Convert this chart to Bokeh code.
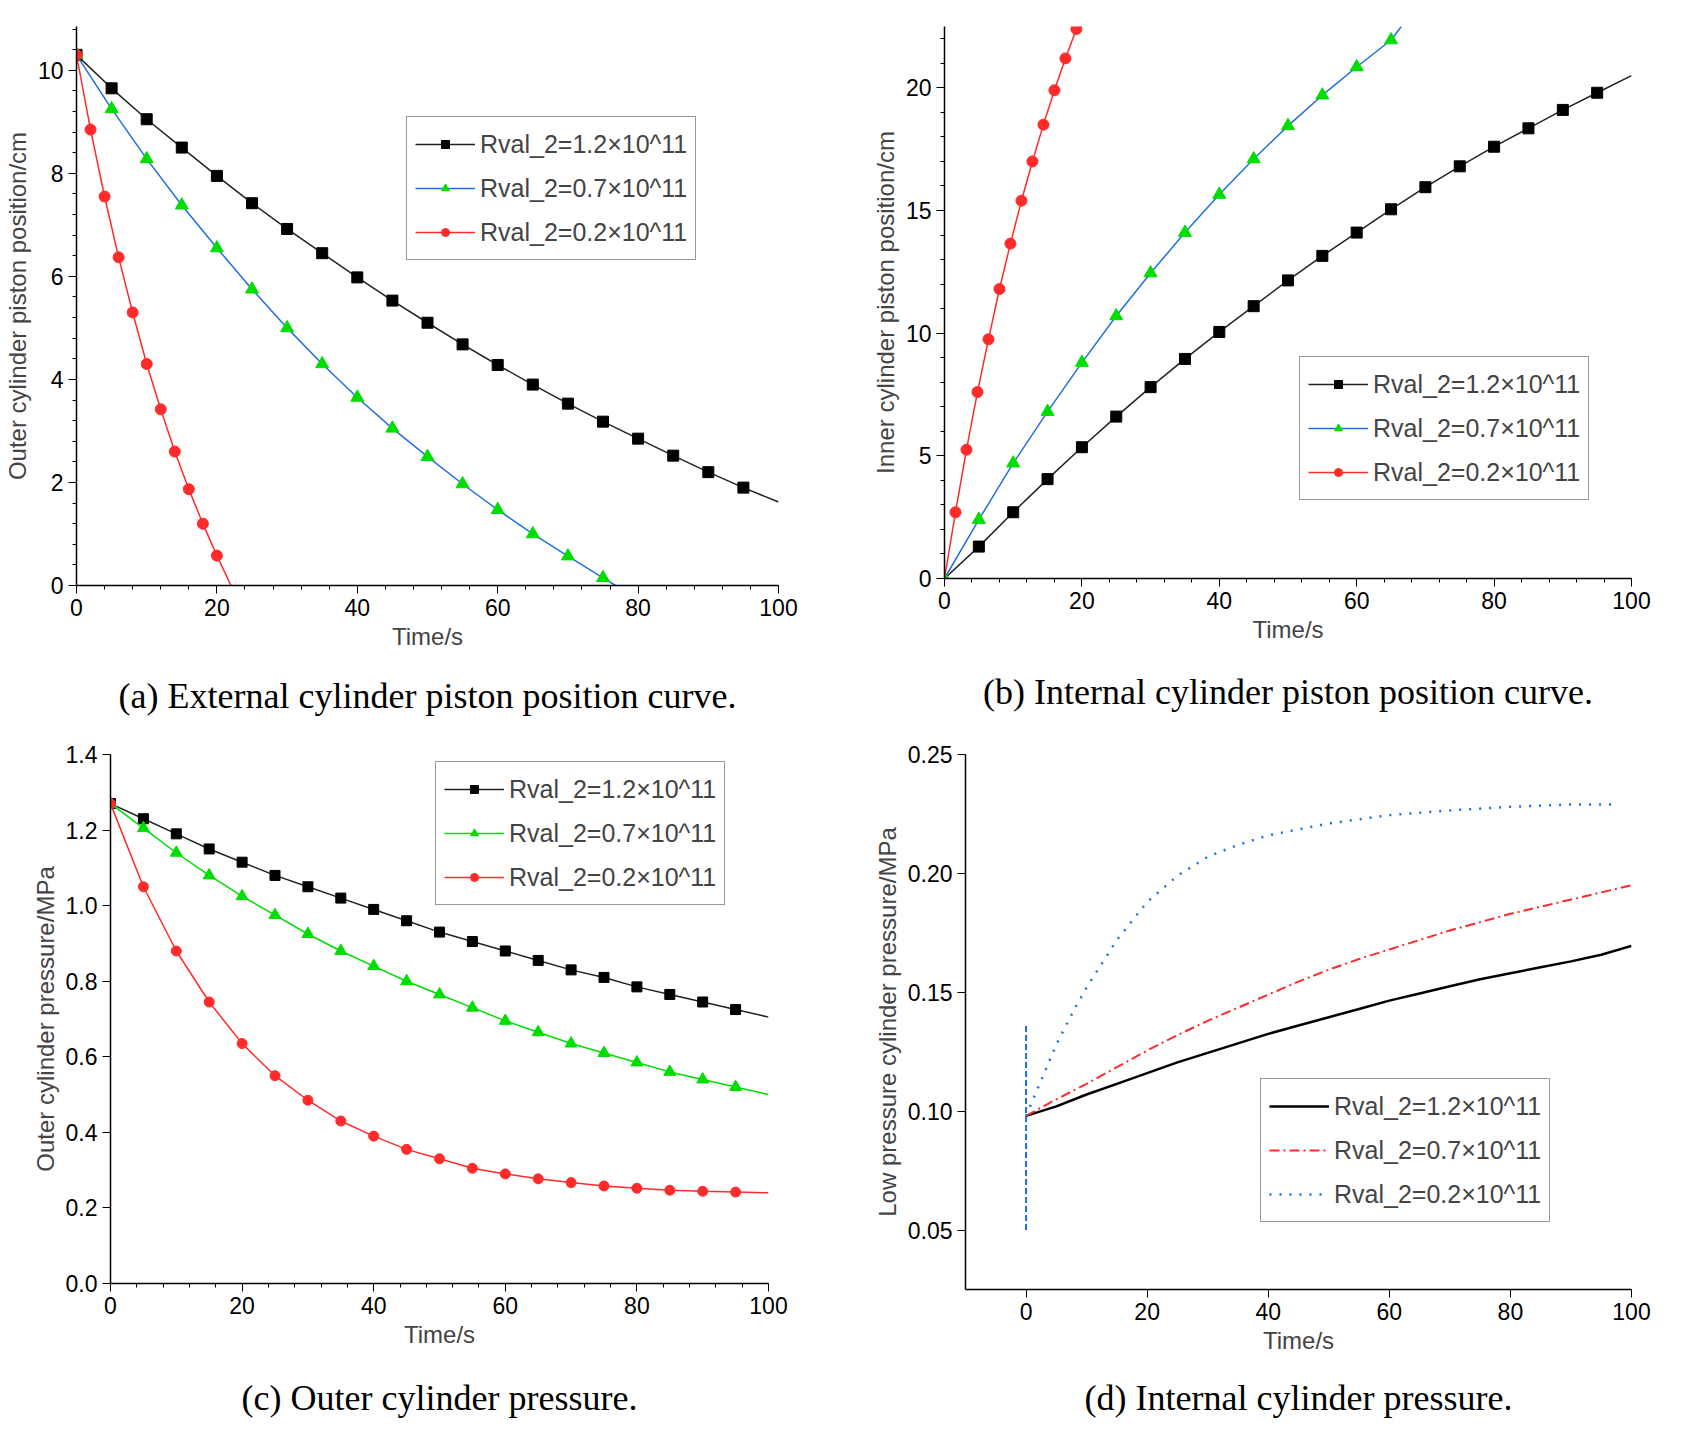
from bokeh.plotting import figure
from bokeh.layouts import column, row
from bokeh.models import Title, Legend, LegendItem, Range1d, NumeralTickFormatter
from bokeh.embed import file_html
from bokeh.resources import INLINE

LABELS = ["Rval_2=1.2×10^11", "Rval_2=0.7×10^11", "Rval_2=0.2×10^11"]

t5 = list(range(0, 101, 5))
a_black = [10.3, 9.65, 9.05, 8.5, 7.95, 7.42, 6.92, 6.45, 5.98, 5.53, 5.1, 4.68, 4.28, 3.9, 3.53, 3.18, 2.85, 2.52, 2.2, 1.9, 1.62]
a_blue_t = list(range(0, 76, 5)) + [76.8]
a_blue = [10.3, 9.25, 8.28, 7.38, 6.55, 5.75, 5.0, 4.3, 3.65, 3.05, 2.5, 1.97, 1.47, 1.0, 0.57, 0.15, 0.0]
a_red_t = [0, 2, 4, 6, 8, 10, 12, 14, 16, 18, 20, 22]
a_red = [10.3, 8.85, 7.55, 6.37, 5.3, 4.3, 3.42, 2.6, 1.87, 1.2, 0.58, 0.0]

b_black = [0, 1.3, 2.7, 4.05, 5.35, 6.6, 7.8, 8.95, 10.05, 11.1, 12.15, 13.15, 14.1, 15.05, 15.95, 16.8, 17.6, 18.35, 19.1, 19.8, 20.5]
b_blue_t = list(range(0, 66, 5)) + [66.5]
b_blue = [0, 2.4, 4.7, 6.8, 8.8, 10.7, 12.45, 14.1, 15.65, 17.1, 18.45, 19.7, 20.85, 21.95, 22.5]
b_red_t = [0, 1.6, 3.2, 4.8, 6.4, 8.0, 9.6, 11.2, 12.8, 14.4, 16.0, 17.6, 19.2]
b_red = [0, 2.7, 5.25, 7.6, 9.75, 11.8, 13.65, 15.4, 17.0, 18.5, 19.9, 21.2, 22.4]

c_black = [1.27, 1.23, 1.19, 1.15, 1.115, 1.08, 1.05, 1.02, 0.99, 0.96, 0.93, 0.905, 0.88, 0.855, 0.83, 0.81, 0.785, 0.765, 0.745, 0.725, 0.705]
c_green = [1.27, 1.205, 1.14, 1.08, 1.025, 0.975, 0.925, 0.88, 0.84, 0.80, 0.765, 0.73, 0.695, 0.665, 0.635, 0.61, 0.585, 0.56, 0.54, 0.52, 0.50]
c_red = [1.27, 1.05, 0.88, 0.745, 0.635, 0.55, 0.485, 0.43, 0.39, 0.355, 0.33, 0.305, 0.29, 0.277, 0.267, 0.258, 0.252, 0.247, 0.244, 0.242, 0.24]

d_t = [0, 5, 10, 15, 20, 25, 30, 35, 40, 45, 50, 55, 60, 65, 70, 75, 80, 85, 90, 95, 100]
d_black = [0.098, 0.102, 0.107, 0.1115, 0.116, 0.1205, 0.1245, 0.1285, 0.1325, 0.136, 0.1395, 0.143, 0.1465, 0.1495, 0.1525, 0.1555, 0.158, 0.1605, 0.163, 0.1658, 0.1695]
d_red = [0.098, 0.105, 0.1115, 0.1185, 0.1255, 0.132, 0.138, 0.1435, 0.149, 0.1545, 0.1595, 0.164, 0.168, 0.172, 0.176, 0.1795, 0.183, 0.186, 0.189, 0.192, 0.195]
d_blue_t = [0, 2, 5, 8, 10, 15, 20, 25, 30, 35, 40, 50, 60, 70, 80, 90, 97]
d_blue = [0.098, 0.11, 0.128, 0.143, 0.152, 0.172, 0.188, 0.199, 0.207, 0.212, 0.216, 0.221, 0.2245, 0.2265, 0.228, 0.229, 0.229]
d_spike_t = [0, 0]
d_spike = [0.05, 0.137]

BLACK = "#222222"
BLUE = "#1f6fe0"
RED = "#ff2a2a"
GREEN = "#00dd00"
FONT = "Liberation Sans"


def make(w, h, l, r, t, b, fw, fh, xr, yr, xlabel, ylabel, caption, standoff):
    p = figure(width=w, height=h, min_border_left=l, min_border_right=r,
               min_border_top=t, min_border_bottom=b, frame_width=fw, frame_height=fh,
               x_range=Range1d(*xr), y_range=Range1d(*yr),
               output_backend="svg", toolbar_location=None)
    p.outline_line_color = None
    p.grid.visible = False
    for ax in (p.xaxis, p.yaxis):
        ax.axis_line_color = "black"
        ax.axis_line_width = 1.5
        ax.major_tick_line_color = "black"
        ax.minor_tick_line_color = "black"
        ax.major_label_text_font = FONT
        ax.major_label_text_font_size = "23px"
        ax.major_label_text_color = "black"
        ax.axis_label_text_font = FONT
        ax.axis_label_text_font_size = "24px"
        ax.axis_label_text_font_style = "normal"
        ax.axis_label_standoff = 4
        ax.major_tick_out = 8
        ax.major_tick_in = 0
        ax.minor_tick_out = 4
    p.xaxis.axis_label = xlabel
    p.yaxis.axis_label = ylabel
    p.xaxis.ticker.desired_num_ticks = 6
    cap = Title(text=caption, text_font="Liberation Serif", text_font_size="36px", align="center",
                text_font_style="normal", text_color="black", standoff=standoff)
    p.add_layout(cap, "below")
    return p


def legend(p, items, x, y):
    lg = Legend(items=items, location=(x, y), label_text_font=FONT, label_text_font_size="25px",
                border_line_color="#333333", border_line_width=1.2, glyph_width=60,
                label_height=38, spacing=6, padding=8, margin=0, background_fill_alpha=1)
    p.add_layout(lg, "center")


pa = make(862, 734, 76, 84, 19, 156, 702, 559, (0, 100), (0, 10.85), "Time/s",
          "Outer cylinder piston position/cm", "(a) External cylinder piston position curve.", 42)
pa.yaxis.ticker.desired_num_ticks = 6
l1 = pa.line(t5, a_black, color=BLACK, line_width=1.5)
m1 = pa.scatter(t5[:-1], a_black[:-1], marker="square", size=11, color="black")
l2 = pa.line(a_blue_t, a_blue, color=BLUE, line_width=1.5)
m2 = pa.scatter(a_blue_t[:-1], a_blue[:-1], marker="triangle", size=13, color=GREEN)
l3 = pa.line(a_red_t, a_red, color=RED, line_width=1.5)
m3 = pa.scatter(a_red_t[:-1], a_red[:-1], marker="circle", size=11, color=RED)
legend(pa, [LegendItem(label=LABELS[0], renderers=[l1, m1]), LegendItem(label=LABELS[1], renderers=[l2, m2]),
            LegendItem(label=LABELS[2], renderers=[l3, m3])], 330, 325)

pb = make(810, 734, 82, 41, 26, 156, 687, 552, (0, 100), (0, 22.5), "Time/s",
          "Inner cylinder piston position/cm", "(b) Internal cylinder piston position curve.", 48)
l1 = pb.line(t5, b_black, color=BLACK, line_width=1.5)
m1 = pb.scatter(t5[1:-1], b_black[1:-1], marker="square", size=11, color="black")
l2 = pb.line(b_blue_t, b_blue, color=BLUE, line_width=1.5)
m2 = pb.scatter(b_blue_t[:-1], b_blue[:-1], marker="triangle", size=13, color=GREEN)
l3 = pb.line(b_red_t, b_red, color=RED, line_width=1.5)
m3 = pb.scatter(b_red_t[1:], b_red[1:], marker="circle", size=11, color=RED)
legend(pb, [LegendItem(label=LABELS[0], renderers=[l1, m1]), LegendItem(label=LABELS[1], renderers=[l2, m2]),
            LegendItem(label=LABELS[2], renderers=[l3, m3])], 355, 78)

pc = make(862, 698, 110, 94, 19, 150, 658, 529, (0, 100), (0, 1.4), "Time/s",
          "Outer cylinder pressure/MPa", "(c) Outer cylinder pressure.", 50)
pc.yaxis.ticker = [0, 0.2, 0.4, 0.6, 0.8, 1.0, 1.2, 1.4]
pc.yaxis.formatter = NumeralTickFormatter(format="0.0")
l1 = pc.line(t5, c_black, color=BLACK, line_width=1.5)
m1 = pc.scatter(t5[:-1], c_black[:-1], marker="square", size=10, color="black")
l2 = pc.line(t5, c_green, color=GREEN, line_width=1.5)
m2 = pc.scatter(t5[:-1], c_green[:-1], marker="triangle", size=12, color=GREEN)
l3 = pc.line(t5, c_red, color=RED, line_width=1.5)
m3 = pc.scatter(t5[:-1], c_red[:-1], marker="circle", size=10, color=RED)
legend(pc, [LegendItem(label=LABELS[0], renderers=[l1, m1]), LegendItem(label=LABELS[1], renderers=[l2, m2]),
            LegendItem(label=LABELS[2], renderers=[l3, m3])], 325, 378)

pd = make(810, 698, 103, 41, 13, 150, 666, 535, (-10, 100), (0.025, 0.25), "Time/s",
          "Low pressure cylinder pressure/MPa", "(d) Internal cylinder pressure.", 38)
pd.xaxis.ticker = [0, 20, 40, 60, 80, 100]
pd.yaxis.ticker = [0.05, 0.10, 0.15, 0.20, 0.25]
pd.yaxis.formatter = NumeralTickFormatter(format="0.00")
pd.line(d_spike_t, d_spike, color=BLUE, line_width=2, line_dash="6 3")
l1 = pd.line(d_t, d_black, color="black", line_width=2.5)
l2 = pd.line(d_t, d_red, color=RED, line_width=2, line_dash="10 4 2 4")
l3 = pd.line(d_blue_t, d_blue, color=BLUE, line_width=2.5, line_dash="2 8")
legend(pd, [LegendItem(label=LABELS[0], renderers=[l1]), LegendItem(label=LABELS[1], renderers=[l2]),
            LegendItem(label=LABELS[2], renderers=[l3])], 295, 67)

layout = column(row(pa, pb, spacing=0), row(pc, pd, spacing=0), spacing=0)
open("out.html", "w").write(file_html(layout, INLINE))
